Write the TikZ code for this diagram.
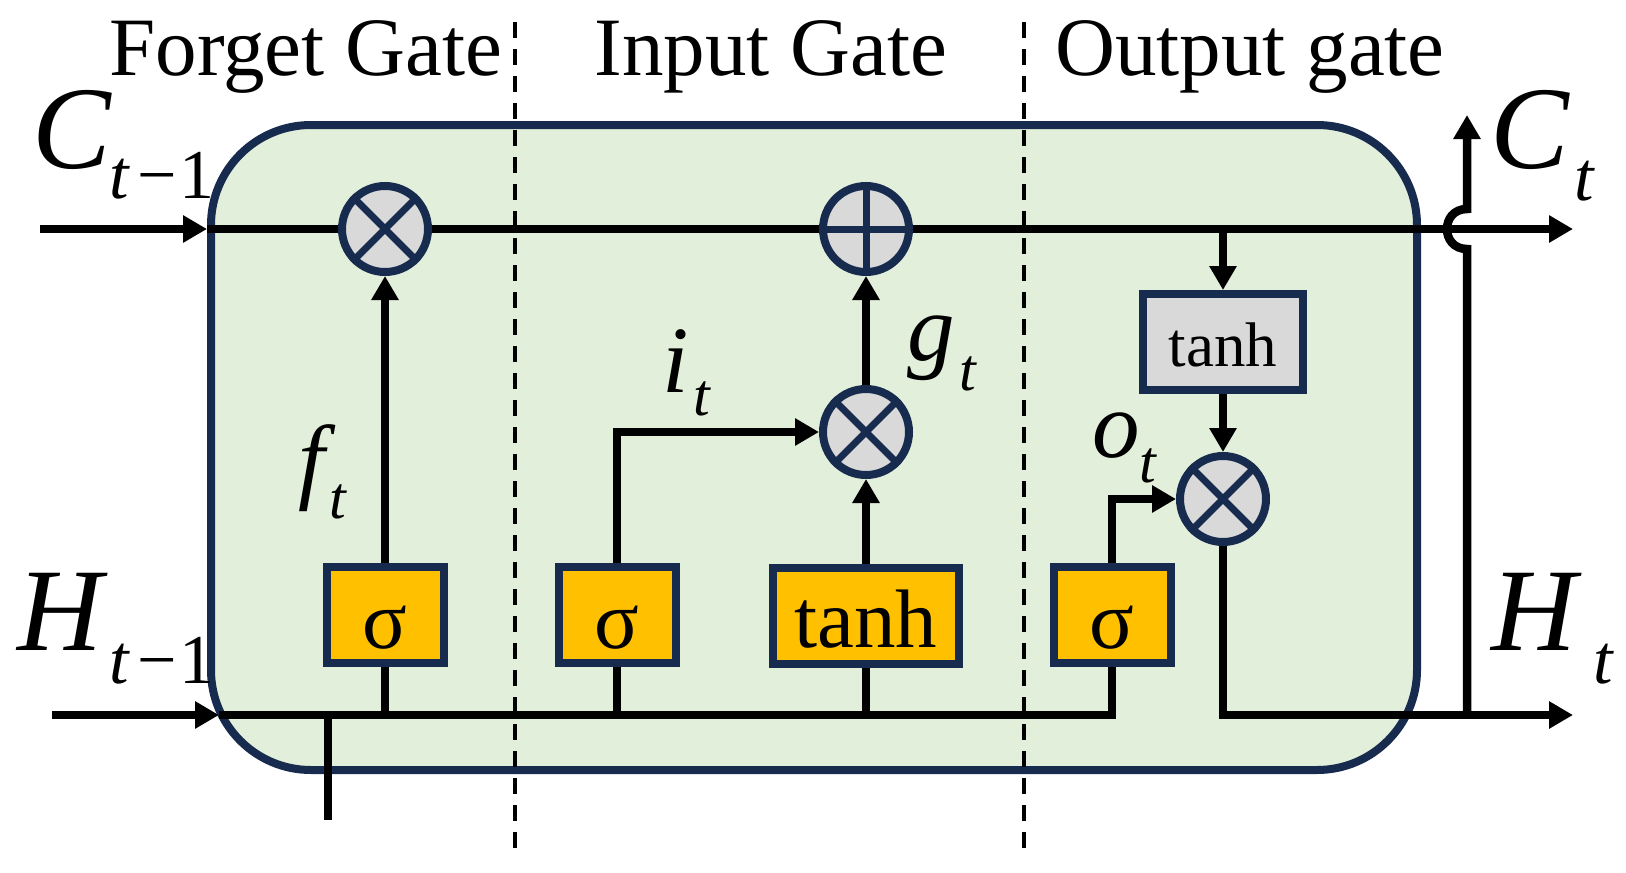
\documentclass[tikz,border=0pt]{standalone}
\usepackage{fontspec}
\setmainfont{Liberation Serif}
\usetikzlibrary{arrows.meta}
\definecolor{navy}{RGB}{23,43,79}
\definecolor{cellgreen}{RGB}{226,239,218}
\definecolor{gateyellow}{RGB}{255,192,0}
\definecolor{boxgray}{RGB}{217,217,217}
\begin{document}
\begin{tikzpicture}[x=1pt,y=-1pt,
  cellbox/.style={draw=navy, line width=8pt, fill=cellgreen, rounded corners=100pt, minimum width=1206pt, minimum height=645pt, inner sep=0pt},
  gatebox/.style={draw=navy, line width=8pt, fill=gateyellow, inner sep=0pt, minimum height=96pt, text depth=0pt, font=\fontsize{83}{83}\selectfont},
  graybox/.style={draw=navy, line width=8pt, fill=boxgray, inner sep=0pt, minimum height=96pt, text depth=0pt, font=\fontsize{63}{63}\selectfont},
  opnode/.style={circle, draw=navy, line width=8pt, fill=boxgray, minimum size=86pt, inner sep=0pt},
  opsym/.style={draw=navy, line width=7pt},
  wire/.style={line width=8.5pt, draw=black},
  arr/.style={wire, -{Triangle[length=24pt,width=26pt]}},
  divider/.style={line width=3.5pt, dash pattern=on 16pt off 11pt},
  titletext/.style={font=\fontsize{83}{83}\selectfont, inner sep=0pt},
  bigvar/.style={font=\fontsize{118}{118}\selectfont\itshape, inner sep=0pt},
  bigsub/.style={font=\fontsize{70}{70}\selectfont, inner sep=0pt},
  smallvar/.style={font=\fontsize{95}{95}\selectfont\itshape, inner sep=0pt},
  smallsub/.style={font=\fontsize{60}{60}\selectfont\itshape, inner sep=0pt},
]
\useasboundingbox (0,0) rectangle (1626,873);
\fill[white] (0,0) rectangle (1626,873);

% cell
\node[cellbox] (cell) at (814,447.5) {};

% dividers
\coordinate (d1t) at (515,22);
\coordinate (d1b) at (515,858);
\coordinate (d2t) at (1024,22);
\coordinate (d2b) at (1024,858);
\draw[divider] (d1t) -- (d1b);
\draw[divider] (d2t) -- (d2b);

% titles
\node[titletext, anchor=base] (tforget) at (306,75) {Forget Gate};
\node[titletext, anchor=base] (tinput) at (771,75) {Input Gate};
\node[titletext, anchor=base] (toutput) at (1250,75) {Output gate};

% operators
\node[opnode] (fmul) at (385,229) {};
\node[opnode] (add) at (866,229) {};
\node[opnode] (imul) at (866,432) {};
\node[opnode] (omul) at (1223,499) {};

% gates
\node[gatebox, minimum width=117pt, text height=66pt] (fsig) at (385,615) {σ};
\node[gatebox, minimum width=117pt, text height=66pt] (isig) at (617,615) {σ};
\node[gatebox, minimum width=186pt, text height=62pt] (itanh) at (866,616) {tanh};
\node[gatebox, minimum width=117pt, text height=66pt] (osig) at (1112,615) {σ};
\node[graybox, minimum width=160pt, text height=48pt] (ctanh) at (1223,342) {tanh};

% free ends
\coordinate (cin) at (40,229);
\coordinate (cout) at (1573,229);
\coordinate (hin) at (52,715);
\coordinate (hintip) at (219,715);
\coordinate (hout) at (1573,715);
\coordinate (ctop) at (1467,115);
\coordinate (jlo) at (1467,249);
\coordinate (jhi) at (1467,209);
\coordinate (jc1) at (1440.3,249);
\coordinate (jc2) at (1440.3,209);
\coordinate (hdrop) at (328,820);

% cell state line
\draw[arr] (cin) -- (cin -| cell.west);
\draw[wire] (cin -| cell.west) -- (fmul.west);
\draw[wire] (fmul.east) -- (add.west);
\draw[arr] (add.east) -- (cout);

% hidden state line
\draw[arr] (hin) -- (hintip);
\draw[wire] (hintip) -| (osig.south);
\draw[wire] (fsig.south) -- (fsig.south |- hin);
\draw[wire] (isig.south) -- (isig.south |- hin);
\draw[wire] (itanh.south) -- (itanh.south |- hin);
\draw[wire] (hdrop |- hin) -- (hdrop);

% gate connections
\draw[arr] (fsig.north) -- (fmul.south);
\draw[arr] (isig.north) |- (imul.west);
\draw[arr] (itanh.north) -- (imul.south);
\draw[arr] (imul.north) -- (add.south);
\draw[arr] (ctanh.north |- cin) -- (ctanh.north);
\draw[arr] (ctanh.south) -- (omul.north);
\draw[arr] (osig.north) |- (omul.west);
\draw[arr] (omul.south) |- (hout);
\draw[arr] (ctop |- hout) -- (jlo) .. controls (jc1) and (jc2) .. (jhi) -- (ctop);

% operator symbols
\draw[opsym] (fmul.north west) -- (fmul.south east);
\draw[opsym] (fmul.north east) -- (fmul.south west);
\draw[opsym] (imul.north west) -- (imul.south east);
\draw[opsym] (imul.north east) -- (imul.south west);
\draw[opsym] (omul.north west) -- (omul.south east);
\draw[opsym] (omul.north east) -- (omul.south west);
\draw[opsym] (add.west) -- (add.east);
\draw[opsym] (add.north) -- (add.south);

% labels
\node[bigvar, anchor=base] (clab) at (72,168) {C};
\node[bigsub, anchor=base] (clabs) at (162,198) {\textit{t}\kern7pt−\kern3pt1};
\node[bigvar, anchor=base] (hlab) at (60,650) {H};
\node[bigsub, anchor=base] (hlabs) at (162,683) {\textit{t}\kern7pt−\kern3pt1};
\node[bigvar, anchor=base] (ctlab) at (1530,168) {C};
\node[bigsub, anchor=base] (ctlabs) at (1585,200) {\textit{t}};
\node[bigvar, anchor=base] (htlab) at (1534,650) {H};
\node[bigsub, anchor=base] (htlabs) at (1604,683) {\textit{t}};
\node[smallvar, anchor=base] (flab) at (312,491) {f};
\node[smallsub, anchor=base] (flabs) at (338,518) {t};
\node[smallvar, anchor=base] (ilab) at (676,392) {i};
\node[smallsub, anchor=base] (ilabs) at (702,415) {t};
\node[smallvar, anchor=base] (glab) at (931,360) {g};
\node[smallsub, anchor=base] (glabs) at (968,390) {t};
\node[smallvar, anchor=base] (olab) at (1116,457) {o};
\node[smallsub, anchor=base] (olabs) at (1148,482) {t};
\end{tikzpicture}
\end{document}
